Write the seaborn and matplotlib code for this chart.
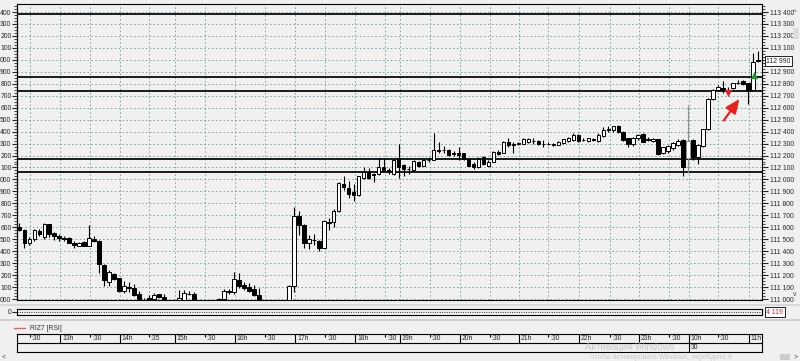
import numpy as np
import pandas as pd
import matplotlib
matplotlib.use('Agg')
import matplotlib.pyplot as plt
import seaborn as sns
from matplotlib.ticker import FixedLocator, FuncFormatter
from matplotlib.lines import Line2D
from matplotlib.patches import Rectangle

# 1. Dados das velas de 5 minutos (RIZ7)
abertura = [111600, 111580, 111465, 111500, 111565, 111515, 111625, 111550, 111530, 111510,
            111510, 111470, 111445, 111480, 111445, 111505, 111485, 111285, 111140, 111210,
            111175, 111065, 111100, 111090, 111040, 110990, 111005, 111000, 111040, 111020,
            110985, 110960, 110995, 110995, 111045, 111040, 110985, 110950, 110960, 110945,
            110995, 111000, 111065, 111055, 111160, 111115, 111100, 111080, 111035, 110985,
            110960, 110930, 110950, 110970, 110980, 111110, 111695, 111615, 111465, 111495,
            111485, 111430, 111640, 111645, 111735, 111965, 111930, 111895, 111870, 112010,
            112060, 112045, 112045, 112105, 112080, 112045, 112180, 112120, 112090, 112080,
            112150, 112115, 112160, 112165, 112245, 112250, 112245, 112220, 112225, 112220,
            112170, 112130, 112105, 112185, 112115, 112150, 112230, 112225, 112315, 112295,
            112300, 112300, 112310, 112325, 112320, 112300, 112300, 112295, 112290, 112305,
            112320, 112330, 112370, 112330, 112320, 112335, 112320, 112365, 112420, 112410,
            112445, 112400, 112345, 112300, 112345, 112380, 112335, 112320, 112335, 112225,
            112235, 112260, 112290, 112330, 112180, 112330, 112190, 112280, 112420, 112670,
            112745, 112765, 112745, 112765, 112805, 112820, 112805, 112750, 112995]
maxima = [111635, 111585, 111515, 111585, 111585, 111635, 111630, 111560, 111540, 111525,
          111515, 111485, 111475, 111485, 111615, 111525, 111490, 111290, 111245, 111220,
          111180, 111150, 111145, 111125, 111065, 111005, 111030, 111050, 111045, 111040,
          110990, 110985, 111075, 111075, 111070, 111055, 110988, 110980, 110985, 110985,
          111010, 111085, 111085, 111230, 111220, 111140, 111135, 111115, 111095, 110988,
          110975, 110960, 110980, 110988, 111120, 111770, 111735, 111625, 111535, 111545,
          111495, 111660, 111680, 111750, 111975, 112030, 111990, 111960, 112030, 112105,
          112095, 112055, 112180, 112180, 112095, 112170, 112295, 112125, 112115, 112165,
          112155, 112170, 112185, 112390, 112310, 112280, 112255, 112235, 112270, 112225,
          112175, 112150, 112190, 112200, 112165, 112235, 112245, 112320, 112350, 112315,
          112315, 112350, 112350, 112345, 112330, 112330, 112310, 112305, 112320, 112340,
          112355, 112385, 112380, 112345, 112350, 112345, 112390, 112435, 112450, 112450,
          112455, 112405, 112350, 112355, 112380, 112385, 112355, 112345, 112340, 112275,
          112290, 112315, 112335, 112340, 112620, 112340, 112300, 112425, 112680, 112755,
          112790, 112825, 112770, 112810, 112835, 112830, 112810, 113055, 113070]
minima = [111570, 111430, 111450, 111485, 111525, 111500, 111520, 111495, 111485, 111485,
          111465, 111430, 111440, 111440, 111440, 111475, 111215, 111105, 111105, 111160,
          111060, 111050, 111055, 111025, 110995, 110960, 110990, 110990, 111010, 110985,
          110950, 110940, 110990, 110990, 111030, 110990, 110930, 110920, 110940, 110935,
          110985, 110995, 111045, 111045, 111090, 111075, 111060, 111025, 110990, 110940,
          110920, 110910, 110930, 110950, 110960, 111060, 111535, 111425, 111415, 111455,
          111405, 111425, 111580, 111605, 111725, 111910, 111845, 111820, 111865, 112000,
          112000, 111975, 112035, 112070, 112045, 112035, 112010, 112025, 112045, 112075,
          112105, 112110, 112150, 112160, 112220, 112220, 112195, 112200, 112160, 112165,
          112110, 112090, 112095, 112120, 112110, 112145, 112205, 112220, 112275, 112225,
          112290, 112295, 112305, 112300, 112290, 112275, 112290, 112280, 112285, 112300,
          112315, 112325, 112310, 112320, 112315, 112320, 112315, 112355, 112400, 112400,
          112390, 112325, 112270, 112280, 112330, 112310, 112320, 112315, 112205, 112215,
          112225, 112250, 112280, 112030, 112055, 112160, 112130, 112275, 112410, 112665,
          112740, 112725, 112710, 112760, 112795, 112790, 112635, 112745, 112985]
fechamento = [111575, 111470, 111505, 111575, 111545, 111625, 111540, 111525, 111510, 111500,
              111470, 111455, 111470, 111445, 111510, 111485, 111290, 111160, 111230, 111170,
              111065, 111105, 111095, 111035, 111000, 110975, 110995, 111030, 111020, 110995,
              110960, 110975, 111010, 111050, 111040, 110995, 110950, 110960, 110945, 110980,
              111000, 111065, 111060, 111170, 111105, 111095, 111070, 111035, 110995, 110960,
              110930, 110950, 110970, 110980, 111110, 111695, 111620, 111465, 111500, 111490,
              111430, 111650, 111645, 111740, 111970, 111940, 111875, 111870, 112025, 112060,
              112010, 112040, 112100, 112080, 112070, 112165, 112105, 112085, 112085, 112155,
              112115, 112160, 112165, 112250, 112240, 112245, 112205, 112215, 112205, 112170,
              112115, 112100, 112175, 112130, 112150, 112230, 112215, 112315, 112290, 112290,
              112305, 112335, 112340, 112320, 112295, 112300, 112295, 112290, 112315, 112335,
              112345, 112370, 112320, 112330, 112345, 112330, 112370, 112410, 112415, 112445,
              112400, 112330, 112295, 112345, 112370, 112315, 112330, 112335, 112215, 112270,
              112280, 112305, 112325, 112100, 112325, 112185, 112290, 112420, 112670, 112750,
              112775, 112745, 112740, 112805, 112810, 112800, 112740, 112985, 112990]

# níveis horizontais desenhados no gráfico
niveis = [113380, 112855, 112742, 112170, 112060]

# escala de preços
preco_min, preco_max = 111000, 113400

# eixo de tempo (posição em número de velas)
rotulos_tempo = [':30', '13h', ':30', '14h', ':35', '15h', ':30', '16h', ':30', '17h', ':30', '18h',
                 ':30', '19h', ':30', '20h', ':30', '21h', ':30', '22h', ':30', '23h', ':30', '10h',
                 ':30', '11h']
posicoes_tempo = [2.1, 8.2, 14.2, 20.2, 26.0, 31.2, 37.2, 43.2, 49.2, 55.3, 61.3, 67.3,
                  73.3, 76.3, 82.3, 88.3, 94.3, 100.1, 106.0, 112.2, 118.4, 124.2, 130.2, 134.2,
                  140.0, 146.2]

# sinais e seta
venda_x = [142]
venda_y = [112722]
compra_x = [147.2]
compra_y = [112870]
seta_de = (140.8, 112474)
seta_ate = (144.6, 112692)
ultimo_preco = 112990
ultimo_rsi = '4 119'
vela_cinza = 134

df = pd.DataFrame({'abertura': abertura, 'maxima': maxima, 'minima': minima, 'fechamento': fechamento})
df['x'] = np.arange(len(df))
df['alta'] = df['fechamento'] >= df['abertura']

# 2. Estilo
sns.set_theme(style='ticks', rc={'axes.edgecolor': 'black', 'axes.linewidth': 0.8})
plt.rcParams['font.family'] = ['Liberation Sans', 'DejaVu Sans']
fundo = '#f0f0f0'
fs = 4.9

W, H = 800, 361
fig = plt.figure(figsize=(8, 3.61), dpi=100)
fig.patch.set_facecolor(fundo)

def caixa(x0, y0, x1, y1):
    return [x0 / W, 1 - y1 / H, (x1 - x0) / W, (y1 - y0) / H]

xlim = (-0.46, 148.8)
ticks_maior = np.arange(preco_min, preco_max + 1, 100)
ticks_menor = np.arange(preco_min, preco_max + 51, 25)

# 3. Gráfico principal de velas
ax = fig.add_axes(caixa(17, 4, 762, 300))
ax.set_facecolor(fundo)
ax.set_xlim(*xlim)
ax.set_ylim(110992, 113467)

cores_pavio = ['#909090' if i == vela_cinza else 'black' for i in df['x']]
ax.vlines(df['x'], df['minima'], df['maxima'], colors=cores_pavio, lw=0.8, zorder=3)
ax.bar(df['x'], (df['fechamento'] - df['abertura']).abs(),
       bottom=df[['abertura', 'fechamento']].min(axis=1), width=0.7,
       color=['white' if a else 'black' for a in df['alta']],
       edgecolor=cores_pavio, linewidth=0.7, zorder=4)

for n in niveis:
    ax.axhline(n, color='#1a1a1a', lw=1.4, zorder=2)

sns.scatterplot(x=venda_x, y=venda_y, marker='v', color='#e02020', s=28, linewidth=0, ax=ax, zorder=6)
sns.scatterplot(x=compra_x, y=compra_y, marker='^', color='#1f9a2a', s=28, linewidth=0, ax=ax, zorder=6)
ax.annotate('', xy=seta_ate, xytext=seta_de,
            arrowprops=dict(arrowstyle='-|>,head_length=0.7,head_width=0.3', color='#e8201c', lw=1.6))

def rotulo_direita(v, p):
    # o preço atual tapa o rótulo vizinho
    if abs(v - ultimo_preco) < 50:
        return ''
    return f'{int(round(v)):,}'.replace(',', ' ')

ax.yaxis.set_major_locator(FixedLocator(ticks_maior))
ax.yaxis.set_minor_locator(FixedLocator(ticks_menor))
ax.yaxis.tick_right()
ax.yaxis.set_major_formatter(FuncFormatter(rotulo_direita))
ax.tick_params(axis='y', which='major', length=4, width=0.8, labelsize=fs, pad=1.5)
ax.tick_params(axis='y', which='minor', length=2, width=0.6, right=True)
ax.set_xticks(posicoes_tempo)
ax.tick_params(axis='x', length=0, labelbottom=False)
ax.grid(True, which='major', color='#6f9f9f', lw=0.7, ls=(0, (1.5, 2.5)))

esq = ax.secondary_yaxis('left')
esq.yaxis.set_major_locator(FixedLocator(ticks_maior))
esq.yaxis.set_minor_locator(FixedLocator(ticks_menor))
esq.yaxis.set_major_formatter(FuncFormatter(lambda v, p: f'{int(round(v)) % 1000:03d}'))
esq.tick_params(axis='y', which='major', length=3.5, width=0.8, labelsize=fs, pad=0.5)
esq.tick_params(axis='y', which='minor', length=2, width=0.6)

ax.text(1.006, ultimo_preco, f'{ultimo_preco:,}'.replace(',', ' '), transform=ax.get_yaxis_transform(),
        fontsize=fs, va='center', ha='left',
        bbox=dict(boxstyle='square,pad=0.2', fc='white', ec='black', lw=0.6))

# 4. Painel fino do indicador
ax2 = fig.add_axes(caixa(17, 309, 762, 315))
ax2.set_facecolor(fundo)
ax2.set_xlim(*xlim)
ax2.set_ylim(0, 1)
ax2.axhline(0.45, color='black', lw=0.7, ls=(0, (0.8, 1.6)))
ax2.set_xticks([])
ax2.set_yticks([0.5])
ax2.set_yticklabels(['0'])
ax2.tick_params(axis='y', length=3.5, width=0.8, labelsize=fs, pad=0.5)
ax2.text(1.006, 0.5, ultimo_rsi, transform=ax2.transAxes, fontsize=fs, color='#e02020',
         va='center', ha='left', bbox=dict(boxstyle='square,pad=0.25', fc='white', ec='black', lw=0.6))

# faixas de separação
fig.add_artist(Rectangle((0, 1 - 306 / H), 1, 2.5 / H, transform=fig.transFigure, fc='#d9d9d9', ec='none'))
fig.add_artist(Rectangle((0, 1 - 321 / H), 1, 2.5 / H, transform=fig.transFigure, fc='#d0d0d0', ec='none'))

# legenda do indicador
fig.add_artist(Line2D([14 / W, 25 / W], [1 - 328 / H] * 2, color='#e06666', lw=1))
fig.text(30 / W, 1 - 328 / H, 'RIZ7 [RSI]', fontsize=fs, va='center', ha='left', color='#333333')

# 5. Eixo de tempo
ax3 = fig.add_axes(caixa(17, 334, 762, 352))
ax3.set_facecolor(fundo)
ax3.set_xlim(*xlim)
ax3.set_ylim(0, 2)
ax3.axhline(1, color='black', lw=0.8)
ax3.set_xticks([])
ax3.set_yticks([])
for pos, rot in zip(posicoes_tempo, rotulos_tempo):
    if rot.endswith('h'):
        baixo = 0 if rot == '10h' else 1
        ax3.vlines(pos, baixo, 2, color='black', lw=0.8)
    else:
        ax3.vlines(pos, 1.7, 2, color='black', lw=0.8)
    ax3.text(pos + 0.35, 1.45, rot, fontsize=fs, va='center', ha='left')
ax3.text(134.2 + 0.35, 0.45, '30', fontsize=fs, va='center', ha='left')

# setas de rolagem
fig.text(795 / W, 1 - 12 / H, '^', fontsize=5.5, ha='center', va='center', color='#444444')
fig.text(795 / W, 1 - 294 / H, 'v', fontsize=5, ha='center', va='center', color='#444444')
fig.add_artist(Rectangle((793 / W, 1 - 39 / H), 6 / W, 11 / H, transform=fig.transFigure, fc='#dcdcdc', ec='none'))
fig.text(4 / W, 1 - 357 / H, '<', fontsize=5, ha='center', va='center', color='#444444')
fig.text(796 / W, 1 - 357 / H, '>', fontsize=5, ha='center', va='center', color='#444444')
fig.add_artist(Rectangle((780 / W, 1 - 360 / H), 10 / W, 6 / H, transform=fig.transFigure, fc='#cccccc', ec='none'))

# marca d'água (fica abaixo dos rótulos de hora)
fig.text(585 / W, 1 - 347.5 / H, 'Активация Windows', fontsize=7, color='#b8b8b8', alpha=0.7, ha='left', va='center')
fig.text(590 / W, 1 - 357 / H, 'Чтобы активировать Windows, перейдите в', fontsize=5, color='#b8b8b8',
         alpha=0.7, ha='left', va='center')

plt.savefig('out.png', dpi=100, facecolor=fundo)
plt.close()
